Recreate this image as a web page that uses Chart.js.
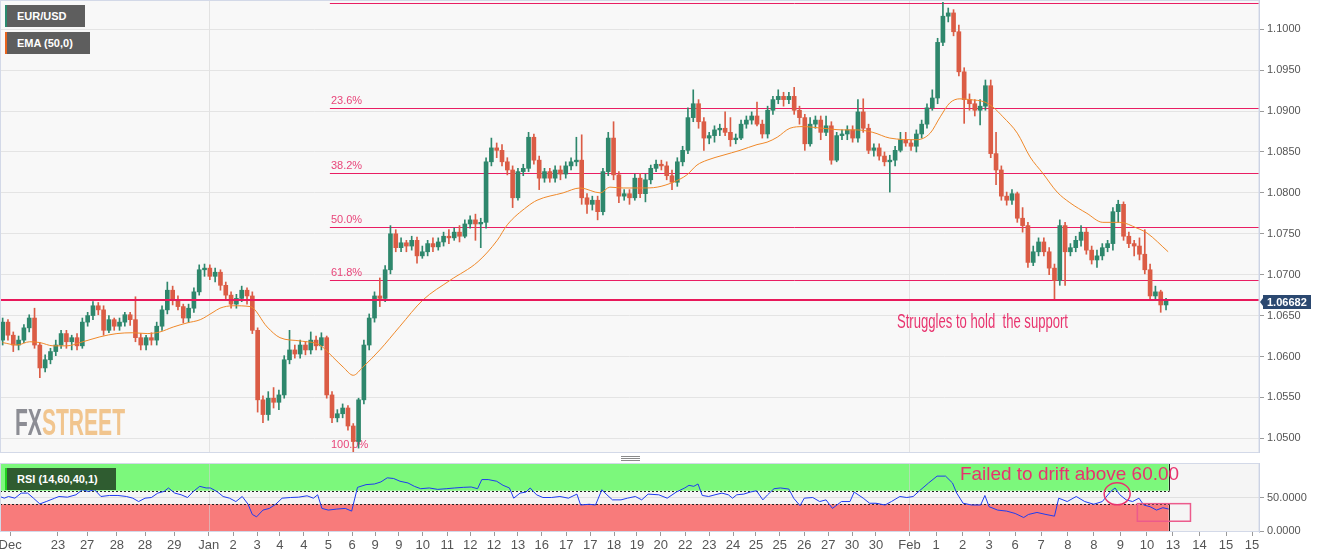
<!DOCTYPE html>
<html>
<head>
<meta charset="utf-8">
<title>EUR/USD 4H</title>
<script src="https://cdn.jsdelivr.net/npm/chart.js@4.4.1/dist/chart.umd.min.js"></script>
<style>
  body { margin: 0; background: #fff; }
  #wrap { position: relative; width: 1331px; height: 558px; overflow: hidden; font-family: 'Liberation Sans', Arial, sans-serif; }
  canvas { position: absolute; left: 0; }
  #main { top: 0; }
  #rsi { top: 458px; }
  .tag { position: absolute; height: 22px; line-height: 22px; box-sizing: border-box; padding-left: 10px;
         border-left: 2px solid; background: #5e5e5e; color: #fff; font-weight: bold; font-size: 11px; white-space: nowrap; }
  .note { position: absolute; color: #e8336e; white-space: pre; line-height: 1; transform-origin: 0 0; }
  #wm { position: absolute; left: 15px; top: 404px; font-weight: bold; font-size: 37px; line-height: 1; white-space: nowrap; transform-origin: 0 0; }
  #grip { position: absolute; left: 621px; top: 456px; width: 19px; height: 1px; background: #8a8a8a; box-shadow: 0 2px #8a8a8a, 0 4px #8a8a8a; }
</style>
</head>
<body>
<div id="wrap">
  <canvas id="main" width="1331" height="453"></canvas>
  <canvas id="rsi" width="1331" height="100"></canvas>
  <div id="wm"><span style="color:#8c8d94">FX</span><span style="color:#f1c58e">STREET</span></div>
  <div class="tag" style="left:5px;top:5px;width:80px;border-left-color:#2a8a6e">EUR/USD</div>
  <div class="tag" style="left:5px;top:32px;width:85px;border-left-color:#e8641e">EMA (50,0)</div>
  <div class="tag" style="left:5px;top:468px;width:111px;background:#2f5c30;border-left-color:#1fd11f">RSI (14,60,40,1)</div>
  <div id="note1" class="note" style="left:897px;top:311px;font-size:20px">Struggles to hold  the support</div>
  <div id="note2" class="note" style="left:960px;top:464px;font-size:19px">Failed to drift above 60.00</div>
  <div id="grip"></div>
</div>
<script>
// 4-hour candles, EUR/USD, late Dec to Feb 10
const open = [1.0620,1.0642,1.0626,1.0614,1.0620,1.0635,1.0647,1.0614,1.0586,1.0596,
1.0606,1.0614,1.0628,1.0618,1.0623,1.0613,1.0642,1.0650,1.0662,1.0657,
1.0632,1.0645,1.0637,1.0642,1.0651,1.0645,1.0623,1.0614,1.0623,1.0620,
1.0637,1.0657,1.0681,1.0669,1.0661,1.0647,1.0659,1.0679,1.0706,1.0708,
1.0698,1.0703,1.0687,1.0675,1.0664,1.0671,1.0681,1.0674,1.0632,1.0547,
1.0529,1.0549,1.0544,1.0553,1.0596,1.0608,1.0603,1.0614,1.0608,1.0620,
1.0613,1.0623,1.0553,1.0525,1.0530,1.0537,1.0515,1.0496,1.0547,1.0614,
1.0647,1.0674,1.0671,1.0706,1.0750,1.0733,1.0739,1.0735,1.0742,1.0723,
1.0728,1.0738,1.0734,1.0740,1.0747,1.0745,1.0752,1.0747,1.0762,1.0767,
1.0762,1.0764,1.0838,1.0855,1.0852,1.0838,1.0828,1.0794,1.0826,1.0830,
1.0868,1.0840,1.0818,1.0826,1.0818,1.0828,1.0823,1.0833,1.0838,1.0840,
1.0794,1.0786,1.0791,1.0777,1.0826,1.0867,1.0822,1.0796,1.0799,1.0794,
1.0818,1.0799,1.0816,1.0830,1.0835,1.0833,1.0821,1.0813,1.0838,1.0852,
1.0892,1.0909,1.0887,1.0867,1.0870,1.0877,1.0879,1.0874,1.0865,1.0867,
1.0884,1.0889,1.0894,1.0884,1.0872,1.0901,1.0914,1.0918,1.0914,1.0918,
1.0901,1.0892,1.0860,1.0884,1.0889,1.0874,1.0882,1.0840,1.0870,1.0872,
1.0877,1.0867,1.0899,1.0879,1.0852,1.0855,1.0845,1.0838,1.0840,1.0852,
1.0865,1.0861,1.0857,1.0872,1.0884,1.0904,1.0916,1.0984,1.1016,1.1020,
1.0997,1.0948,1.0914,1.0909,1.0901,1.0906,1.0931,1.0848,1.0828,1.0796,
1.0791,1.0799,1.0769,1.0760,1.0715,1.0728,1.0740,1.0728,1.0708,1.0693,
1.0760,1.0728,1.0733,1.0742,1.0752,1.0730,1.0718,1.0723,1.0733,1.0738,
1.0777,1.0786,1.0747,1.0738,1.0735,1.0725,1.0706,1.0674,1.0679,1.0663];

const high = [1.0647,1.0645,1.0630,1.0625,1.0639,1.0651,1.0659,1.0617,1.0602,1.0610,
1.0620,1.0632,1.0632,1.0626,1.0628,1.0647,1.0654,1.0667,1.0666,1.0662,
1.0650,1.0647,1.0647,1.0654,1.0654,1.0673,1.0628,1.0626,1.0629,1.0642,
1.0662,1.0691,1.0686,1.0674,1.0664,1.0664,1.0684,1.0712,1.0713,1.0712,
1.0708,1.0706,1.0691,1.0679,1.0676,1.0686,1.0684,1.0679,1.0635,1.0552,
1.0557,1.0562,1.0559,1.0601,1.0632,1.0614,1.0620,1.0618,1.0630,1.0625,
1.0629,1.0625,1.0557,1.0535,1.0542,1.0540,1.0518,1.0549,1.0620,1.0652,
1.0679,1.0696,1.0711,1.0760,1.0755,1.0745,1.0742,1.0747,1.0746,1.0735,
1.0742,1.0745,1.0745,1.0752,1.0755,1.0757,1.0760,1.0767,1.0772,1.0774,
1.0769,1.0843,1.0867,1.0861,1.0859,1.0843,1.0833,1.0830,1.0835,1.0874,
1.0872,1.0845,1.0830,1.0830,1.0833,1.0833,1.0838,1.0843,1.0868,1.0871,
1.0799,1.0796,1.0796,1.0830,1.0874,1.0887,1.0826,1.0804,1.0804,1.0823,
1.0824,1.0823,1.0834,1.0840,1.0840,1.0838,1.0828,1.0843,1.0857,1.0904,
1.0926,1.0914,1.0892,1.0874,1.0882,1.0884,1.0899,1.0892,1.0872,1.0889,
1.0894,1.0899,1.0911,1.0889,1.0906,1.0918,1.0926,1.0923,1.0923,1.0929,
1.0906,1.0896,1.0892,1.0894,1.0894,1.0894,1.0887,1.0874,1.0877,1.0882,
1.0882,1.0914,1.0915,1.0884,1.0860,1.0860,1.0850,1.0846,1.0857,1.0874,
1.0874,1.0865,1.0877,1.0889,1.0909,1.0926,1.0989,1.1033,1.1026,1.1024,
1.1005,1.0953,1.0921,1.0914,1.0914,1.0938,1.0938,1.0874,1.0833,1.0801,
1.0804,1.0801,1.0782,1.0764,1.0735,1.0745,1.0745,1.0733,1.0713,1.0767,
1.0764,1.0738,1.0747,1.0760,1.0757,1.0735,1.0730,1.0738,1.0742,1.0782,
1.0791,1.0789,1.0752,1.0742,1.0745,1.0755,1.0713,1.0686,1.0681,1.0671];

const low = [1.0614,1.0620,1.0606,1.0608,1.0617,1.0630,1.0610,1.0574,1.0581,1.0591,
1.0601,1.0610,1.0610,1.0608,1.0608,1.0610,1.0637,1.0645,1.0651,1.0626,
1.0629,1.0632,1.0632,1.0637,1.0638,1.0618,1.0608,1.0608,1.0614,1.0614,
1.0632,1.0652,1.0663,1.0657,1.0641,1.0642,1.0654,1.0675,1.0698,1.0694,
1.0691,1.0681,1.0669,1.0659,1.0659,1.0667,1.0664,1.0628,1.0532,1.0519,
1.0522,1.0537,1.0535,1.0549,1.0591,1.0598,1.0598,1.0602,1.0603,1.0608,
1.0608,1.0549,1.0519,1.0520,1.0525,1.0510,1.0483,1.0488,1.0542,1.0608,
1.0642,1.0661,1.0667,1.0701,1.0728,1.0728,1.0728,1.0730,1.0714,1.0720,
1.0723,1.0728,1.0730,1.0735,1.0738,1.0742,1.0740,1.0745,1.0757,1.0742,
1.0733,1.0757,1.0833,1.0843,1.0833,1.0822,1.0782,1.0791,1.0821,1.0826,
1.0835,1.0804,1.0813,1.0813,1.0813,1.0816,1.0818,1.0828,1.0833,1.0786,
1.0775,1.0779,1.0767,1.0773,1.0821,1.0816,1.0788,1.0791,1.0786,1.0791,
1.0794,1.0789,1.0811,1.0826,1.0828,1.0816,1.0804,1.0808,1.0833,1.0848,
1.0887,1.0879,1.0852,1.0860,1.0862,1.0870,1.0870,1.0857,1.0860,1.0865,
1.0879,1.0884,1.0882,1.0867,1.0867,1.0896,1.0909,1.0906,1.0909,1.0896,
1.0884,1.0852,1.0857,1.0879,1.0865,1.0870,1.0835,1.0838,1.0865,1.0865,
1.0862,1.0862,1.0874,1.0848,1.0845,1.0840,1.0833,1.0801,1.0833,1.0850,
1.0857,1.0852,1.0850,1.0867,1.0879,1.0901,1.0909,1.0980,1.1009,1.0992,
1.0943,1.0885,1.0901,1.0894,1.0883,1.0901,1.0843,1.0810,1.0791,1.0785,
1.0786,1.0764,1.0752,1.0709,1.0711,1.0723,1.0723,1.0700,1.0669,1.0687,
1.0687,1.0723,1.0728,1.0735,1.0725,1.0713,1.0709,1.0718,1.0728,1.0730,
1.0764,1.0742,1.0733,1.0723,1.0718,1.0701,1.0669,1.0669,1.0654,1.0657];

const close = [1.0642,1.0626,1.0614,1.0620,1.0635,1.0647,1.0614,1.0586,1.0596,1.0606,
1.0614,1.0628,1.0618,1.0623,1.0613,1.0642,1.0650,1.0662,1.0657,1.0632,
1.0645,1.0637,1.0642,1.0651,1.0645,1.0623,1.0614,1.0623,1.0620,1.0637,
1.0657,1.0681,1.0669,1.0661,1.0647,1.0659,1.0679,1.0706,1.0708,1.0698,
1.0703,1.0687,1.0675,1.0664,1.0671,1.0681,1.0674,1.0632,1.0547,1.0529,
1.0549,1.0544,1.0553,1.0596,1.0608,1.0603,1.0614,1.0608,1.0620,1.0613,
1.0623,1.0553,1.0525,1.0530,1.0537,1.0515,1.0496,1.0547,1.0614,1.0647,
1.0674,1.0671,1.0706,1.0750,1.0733,1.0739,1.0735,1.0742,1.0723,1.0728,
1.0738,1.0734,1.0740,1.0747,1.0745,1.0752,1.0747,1.0762,1.0767,1.0762,
1.0764,1.0838,1.0855,1.0852,1.0838,1.0828,1.0794,1.0826,1.0830,1.0868,
1.0840,1.0818,1.0826,1.0818,1.0828,1.0823,1.0833,1.0838,1.0840,1.0794,
1.0786,1.0791,1.0777,1.0826,1.0867,1.0822,1.0796,1.0799,1.0794,1.0818,
1.0799,1.0816,1.0830,1.0835,1.0833,1.0821,1.0813,1.0838,1.0852,1.0892,
1.0909,1.0887,1.0867,1.0870,1.0877,1.0879,1.0874,1.0865,1.0867,1.0884,
1.0889,1.0894,1.0884,1.0872,1.0901,1.0914,1.0918,1.0914,1.0918,1.0901,
1.0892,1.0860,1.0884,1.0889,1.0874,1.0882,1.0840,1.0870,1.0872,1.0877,
1.0867,1.0899,1.0879,1.0852,1.0855,1.0845,1.0838,1.0840,1.0852,1.0865,
1.0861,1.0857,1.0872,1.0884,1.0904,1.0916,1.0984,1.1016,1.1020,1.0997,
1.0948,1.0914,1.0909,1.0901,1.0906,1.0931,1.0848,1.0828,1.0796,1.0791,
1.0799,1.0769,1.0760,1.0715,1.0728,1.0740,1.0728,1.0708,1.0693,1.0760,
1.0728,1.0733,1.0742,1.0752,1.0730,1.0718,1.0723,1.0733,1.0738,1.0777,
1.0786,1.0747,1.0738,1.0735,1.0725,1.0706,1.0674,1.0679,1.0663,1.06682];

// EMA(50), positions in candle units
const emaAt = [0,2.7,5.1,7.0,9.5,12.1,14.6,18.3,21.5,24.5,27.2,29.6,32.1,34.7,37.2,39.6,40.9,43.4,46.6,49.8,
52.2,56.0,59.7,62.2,64.1,66.0,67.8,71.0,74.8,79.1,84.2,89.5,93.1,95.0,98.7,100.6,105.5,108.7,112.5,114.3,
116.8,120.5,123.2,126.2,128.8,130.7,132.6,135.6,138.8,142.0,143.9,145.8,148.2,150.7,154.4,158.2,160.8,163.8,167.0,172.1,
174.6,176.5,178.3,180.2,182.1,184.9,186.4,188.3,191.0,193.4,195.8,198.5,200.9,204.1,207.1,210.3,213.5,215.4,219.4];
const emaVal = [1.0617,1.0614,1.0618,1.0617,1.0613,1.0613,1.0617,1.0624,1.0628,1.0629,1.0628,1.0630,1.0636,1.0641,1.0645,1.0654,1.0659,1.0662,1.0661,1.0636,
1.0623,1.0619,1.0614,1.0599,1.0587,1.0577,1.0587,1.0608,1.0637,1.0669,1.0693,1.0716,1.0742,1.0761,1.0783,1.0791,1.0800,1.0806,1.0800,1.0807,
1.0806,1.0806,1.0807,1.0813,1.0822,1.0834,1.0840,1.0846,1.0852,1.0859,1.0862,1.0868,1.0879,1.0881,1.0879,1.0877,1.0877,1.0874,1.0867,1.0865,
1.0873,1.0893,1.0910,1.0915,1.0914,1.0911,1.0905,1.0893,1.0873,1.0844,1.0824,1.0801,1.0788,1.0775,1.0764,1.0764,1.0757,1.0751,1.0728];

// RSI(14)
const rsiAt = [-0.5,0.3,1.1,2.3,3.5,4.7,5.8,7.0,8.2,9.8,10.6,12.2,13.8,15.0,16.1,17.3,18.5,20.1,21.7,23.3,
24.5,25.6,26.8,28.0,29.2,30.4,31.2,32.4,33.6,34.8,35.9,37.1,38.3,39.1,40.3,41.5,42.7,43.9,45.1,46.2,
47.0,47.8,49.0,50.2,51.4,52.6,54.2,55.7,57.3,58.5,59.3,60.1,61.3,62.9,64.5,65.7,66.8,68.4,70.0,71.2,
72.4,73.6,74.8,76.3,77.5,78.7,80.3,81.9,83.5,85.1,86.7,88.2,89.4,90.2,91.4,93.0,94.2,95.4,96.2,97.4,
98.5,99.3,100.5,101.7,103.3,104.9,106.5,108.1,108.8,110.4,111.6,112.8,113.6,114.8,116.4,117.6,119.1,120.3,121.5,
123.5,125.1,126.8,128.4,129.2,130.1,130.9,131.7,132.9,134.1,135.4,136.6,137.4,138.2,139.5,140.7,141.9,143.1,144.0,145.2,
146.4,148.0,148.9,150.1,150.9,152.5,153.8,155.0,156.2,157.9,159.5,160.3,162.0,163.2,164.4,166.1,167.3,168.9,170.2,171.4,
172.6,174.3,175.9,177.5,178.8,179.6,180.8,182.4,184.1,184.9,185.7,187.3,189.0,190.6,192.2,193.1,194.7,196.4,198.0,198.8,
200.4,202.1,203.7,205.4,207.0,208.6,209.4,210.3,211.5,212.7,213.9,214.8,216.0,217.2,218.4,219.5];
const rsiVal = [51.5,49.0,51.5,49.0,56.5,56.5,49.0,40.5,44.0,49.0,51.5,50.5,54.0,61.5,59.0,61.5,51.5,53.0,53.0,51.5,
49.0,44.0,49.0,50.0,56.5,59.0,64.1,56.5,54.0,50.0,59.0,66.5,64.1,64.1,59.0,51.5,49.0,44.0,51.5,40.0,
24.9,21.4,31.4,33.9,40.0,49.0,50.0,50.5,52.5,49.0,54.0,33.9,31.4,32.9,33.9,29.9,65.0,69.0,70.0,73.0,
79.1,78.1,74.0,71.5,66.5,63.0,64.1,62.0,63.0,64.1,65.0,65.5,63.0,76.5,76.5,74.0,68.0,64.1,49.0,56.5,
58.0,64.1,54.0,50.0,50.0,51.5,49.0,55.0,38.9,40.0,38.9,61.5,55.0,46.5,46.5,49.0,51.5,46.5,55.0,
54.0,49.0,58.0,64.1,68.0,66.5,70.0,53.0,51.5,54.0,56.5,54.0,49.0,54.0,55.0,58.0,60.0,46.5,54.0,63.0,
64.1,62.5,49.0,37.9,49.0,50.0,44.0,46.5,33.9,44.0,44.0,58.0,49.0,41.5,41.5,38.9,44.0,51.5,50.0,51.5,
60.0,71.5,81.6,81.6,71.5,56.5,41.5,38.9,38.9,53.0,36.4,31.4,29.9,26.4,20.4,24.9,27.9,24.9,22.4,49.0,
44.0,51.5,44.0,40.0,44.0,59.0,64.1,54.0,46.5,44.0,49.0,38.9,36.4,31.4,34.9,32.9];

// Fibonacci retracement levels and support
const fibPrice = [1.1032, 1.0904, 1.0824, 1.0758, 1.0694, 1.0483];
const fibName = ['', '23.6%', '38.2%', '50.0%', '61.8%', '100.0%'];
const fibFrom = 61.6;
const support = 1.0669;

const priceTicks = [1.0500, 1.0550, 1.0600, 1.0650, 1.0700, 1.0750, 1.0800, 1.0850, 1.0900, 1.0950, 1.1000];

const tickLabels = ['Dec','23','27','28','28','29','Jan','2','3','4','4','5','6','9','9','10','11','12','12','13',
'16','17','17','18','19','20','22','23','24','25','25','26','27','30','30','Feb','1','2','3','6','7','8','8','9','10',
'13','14','15','15'];
const tickAt = [1.4,10.4,15.9,21.5,26.8,32.3,38.8,43.4,47.9,52.2,56.7,61.3,65.8,70.1,74.6,79.1,83.7,88.0,92.5,97.0,
101.5,106.1,110.6,115.1,119.4,123.9,128.5,133.0,137.5,141.8,146.3,150.9,155.4,159.9,164.4,170.7,175.7,180.7,185.7,190.6,
195.5,200.5,205.4,210.4,215.4,220.3,225.3,230.3,235.2];

const UP = '#2e876c';
const DOWN = '#db5c45';
const PINK = '#e91e63';
const FRAME = '#d3d9e8';
const X_MIN = -0.5, X_MAX = 236.5;
const AXIS_W = 72;

Chart.defaults.font.family = "'Liberation Sans', Arial, sans-serif";
Chart.defaults.color = '#555';

const candleColor = close.map((c, i) => c >= open[i] ? UP : DOWN);
const monthAt = tickAt.filter((v, i) => ['Jan', 'Feb'].includes(tickLabels[i]));

function fitY(scale) {
    scale.width = AXIS_W;
    scale.paddingTop = 0;
    scale.paddingBottom = 0;
}

function frame(ctx, a) {
    ctx.save();
    ctx.strokeStyle = FRAME;
    ctx.lineWidth = 1;
    ctx.strokeRect(0.5, a.top + 0.5, a.right - 0.5, a.bottom - a.top - 1);
    ctx.restore();
}

const mainPlugin = {
    id: 'mainDeco',
    beforeDraw(chart) {
        const {ctx, chartArea: a} = chart;
        ctx.save();
        ctx.fillStyle = '#f8f8f8';
        ctx.fillRect(a.left, a.top, a.right - a.left, a.bottom - a.top);
        ctx.restore();
    },
    beforeDatasetsDraw(chart) {
        const {ctx, chartArea: a, scales: {x, y}} = chart;
        ctx.save();
        ctx.lineWidth = 1;
        ctx.strokeStyle = '#e2e2e2';
        monthAt.forEach(m => {
            const px = Math.round(x.getPixelForValue(m)) + 0.5;
            ctx.beginPath(); ctx.moveTo(px, a.top); ctx.lineTo(px, a.bottom); ctx.stroke();
        });
        // fibonacci lines
        const x0 = x.getPixelForValue(fibFrom);
        ctx.strokeStyle = PINK;
        ctx.font = "11px 'Liberation Sans', Arial, sans-serif";
        ctx.textBaseline = 'bottom';
        fibPrice.forEach((p, i) => {
            const py = Math.round(y.getPixelForValue(p)) + 0.5;
            ctx.beginPath(); ctx.moveTo(x0, py); ctx.lineTo(a.right, py); ctx.stroke();
            if (fibName[i]) {
                ctx.fillStyle = '#e8457a';
                ctx.fillText(fibName[i], x0 + 1, py - 2);
            }
        });
        ctx.restore();
    },
    afterDatasetsDraw(chart) {
        const {ctx, chartArea: a, scales: {y}} = chart;
        const py = y.getPixelForValue(support);
        ctx.save();
        ctx.strokeStyle = '#e8185a';
        ctx.lineWidth = 2;
        ctx.beginPath(); ctx.moveTo(a.left, py); ctx.lineTo(a.right, py); ctx.stroke();
        ctx.restore();
        frame(ctx, a);
    },
    afterDraw(chart) {
        const {ctx, chartArea: a, scales: {y}} = chart;
        const last = close[close.length - 1];
        const py = Math.round(y.getPixelForValue(last)) + 1;
        const bx = a.right + 4;
        ctx.save();
        ctx.fillStyle = '#2b4870';
        ctx.beginPath();
        ctx.moveTo(a.right + 1, py);
        ctx.lineTo(bx, py - 4);
        ctx.lineTo(bx, py - 7);
        ctx.lineTo(bx + 48, py - 7);
        ctx.lineTo(bx + 48, py + 7);
        ctx.lineTo(bx, py + 7);
        ctx.lineTo(bx, py + 4);
        ctx.closePath();
        ctx.fill();
        ctx.fillStyle = '#fff';
        ctx.font = "bold 11px 'Liberation Sans', Arial, sans-serif";
        ctx.textBaseline = 'middle';
        ctx.fillText(last.toFixed(5), bx + 4, py + 1);
        ctx.restore();
    }
};

const mainChart = new Chart(document.getElementById('main'), {
    type: 'bar',
    data: {
        datasets: [
            {
                label: 'wick',
                data: low.map((l, i) => ({x: i, y: [l, high[i]]})),
                backgroundColor: candleColor,
                barThickness: 1,
                grouped: false,
                order: 3
            },
            {
                label: 'body',
                data: open.map((o, i) => ({x: i, y: [o, close[i]]})),
                backgroundColor: candleColor,
                barThickness: 4,
                minBarLength: 1,
                grouped: false,
                order: 2
            },
            {
                type: 'line',
                label: 'EMA (50,0)',
                data: emaAt.map((v, i) => ({x: v, y: emaVal[i]})),
                borderColor: '#f0892a',
                borderWidth: 1,
                pointRadius: 0,
                cubicInterpolationMode: 'monotone',
                order: 1
            }
        ]
    },
    options: {
        responsive: false,
        animation: false,
        layout: {padding: 0},
        plugins: {legend: {display: false}, tooltip: {enabled: false}},
        scales: {
            x: {type: 'linear', min: X_MIN, max: X_MAX, offset: false, display: false},
            y: {
                position: 'right',
                min: 1.04820,
                max: 1.10358,
                afterFit: fitY,
                afterBuildTicks: s => { s.ticks = priceTicks.map(v => ({value: v})); },
                ticks: {callback: v => v.toFixed(4), font: {size: 11}, color: '#555', padding: 3},
                grid: {color: '#e4e4e4', tickColor: '#9a9a9a', tickLength: 5},
                border: {color: '#c5cde0'}
            }
        }
    },
    plugins: [mainPlugin]
});

const rsiPlugin = {
    id: 'rsiDeco',
    beforeDraw(chart) {
        const {ctx, chartArea: a, scales: {x, y}} = chart;
        const xr = x.getPixelForValue(close.length - 0.5);
        ctx.save();
        ctx.fillStyle = '#f5f5f5';
        ctx.fillRect(a.left, a.top, a.right - a.left, a.bottom - a.top);
        ctx.fillStyle = '#7cf87c';
        ctx.fillRect(a.left, y.getPixelForValue(100), xr - a.left, y.getPixelForValue(60) - y.getPixelForValue(100));
        ctx.fillStyle = '#f87b7b';
        ctx.fillRect(a.left, y.getPixelForValue(40), xr - a.left, y.getPixelForValue(0) - y.getPixelForValue(40));
        ctx.restore();
    },
    beforeDatasetsDraw(chart) {
        const {ctx, chartArea: a, scales: {x, y}} = chart;
        const xr = Math.round(x.getPixelForValue(close.length - 0.5)) + 0.5;
        ctx.save();
        ctx.lineWidth = 1;
        ctx.strokeStyle = 'rgba(210,210,210,0.6)';
        monthAt.forEach(m => {
            const px = Math.round(x.getPixelForValue(m)) + 0.5;
            ctx.beginPath(); ctx.moveTo(px, a.top); ctx.lineTo(px, a.bottom); ctx.stroke();
        });
        ctx.strokeStyle = '#222';
        ctx.beginPath(); ctx.moveTo(xr, y.getPixelForValue(100)); ctx.lineTo(xr, y.getPixelForValue(60)); ctx.stroke();
        ctx.beginPath(); ctx.moveTo(xr, y.getPixelForValue(40)); ctx.lineTo(xr, y.getPixelForValue(0)); ctx.stroke();
        ctx.setLineDash([2, 2]);
        [60, 40].forEach(v => {
            const py = Math.round(y.getPixelForValue(v)) + 0.5;
            ctx.beginPath(); ctx.moveTo(a.left, py); ctx.lineTo(xr, py); ctx.stroke();
        });
        ctx.restore();
    },
    afterDatasetsDraw(chart) {
        const {ctx, chartArea: a, scales: {x, y}} = chart;
        ctx.save();
        ctx.strokeStyle = '#e8336e';
        ctx.lineWidth = 1.5;
        ctx.beginPath();
        ctx.ellipse(x.getPixelForValue(209.8), y.getPixelForValue(55.5), 13, 11, 0, 0, Math.PI * 2);
        ctx.stroke();
        ctx.strokeStyle = '#ec5b8c';
        const rx0 = x.getPixelForValue(213.6), rx1 = x.getPixelForValue(223.6);
        const ry0 = y.getPixelForValue(40.9), ry1 = y.getPixelForValue(14.9);
        ctx.strokeRect(rx0, ry0, rx1 - rx0, ry1 - ry0);
        ctx.restore();
        frame(ctx, a);
    }
};

const rsiChart = new Chart(document.getElementById('rsi'), {
    type: 'line',
    data: {
        datasets: [{
            label: 'RSI (14,60,40,1)',
            data: rsiAt.map((v, i) => ({x: v, y: rsiVal[i]})),
            borderColor: '#1f3cf0',
            borderWidth: 1,
            pointRadius: 0,
            tension: 0
        }]
    },
    options: {
        responsive: false,
        animation: false,
        layout: {padding: {top: 5}},
        plugins: {legend: {display: false}, tooltip: {enabled: false}},
        scales: {
            x: {
                type: 'linear', min: X_MIN, max: X_MAX, offset: false,
                afterBuildTicks: s => { s.ticks = tickAt.map(v => ({value: v})); },
                afterFit: s => { s.height = 26; s.paddingLeft = 0; s.paddingRight = 0; },
                ticks: {
                    callback: (v, i) => tickLabels[i],
                    autoSkip: false, maxRotation: 0,
                    font: {family: "'Liberation Sans Narrow', 'Liberation Sans', Arial, sans-serif", size: 13},
                    color: '#555', padding: 2
                },
                grid: {drawOnChartArea: false, tickLength: 4, tickColor: '#9a9a9a'},
                border: {display: false}
            },
            y: {
                position: 'right',
                min: -1,
                max: 101,
                afterFit: fitY,
                afterBuildTicks: s => { s.ticks = [{value: 0}, {value: 50}]; },
                ticks: {callback: v => v.toFixed(4), font: {size: 11}, color: '#555', padding: 3},
                grid: {color: c => c.tick && c.tick.value === 50 ? '#e0e0e0' : 'rgba(0,0,0,0)', tickColor: '#9a9a9a', tickLength: 5},
                border: {color: '#c5cde0'}
            }
        }
    },
    plugins: [rsiPlugin]
});

function fitWidth(id, w) {
    const el = document.getElementById(id);
    el.style.transform = 'scaleX(' + (w / el.getBoundingClientRect().width) + ')';
}
fitWidth('wm', 110);
fitWidth('note1', 171);
fitWidth('note2', 219);
</script>
</body>
</html>
